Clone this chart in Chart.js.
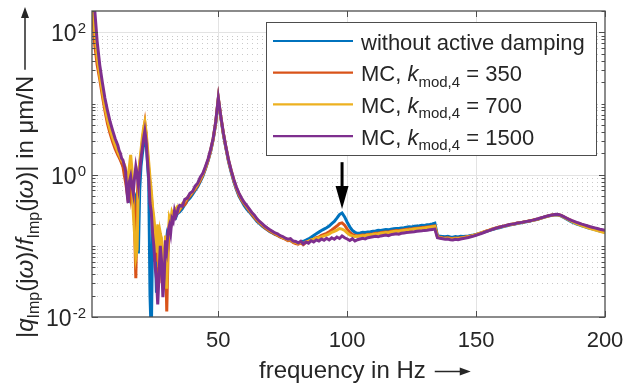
<!DOCTYPE html>
<html><head><meta charset="utf-8">
<script src="https://cdn.jsdelivr.net/npm/chart.js@4"></script>
<style>html,body{margin:0;padding:0;background:#fff}canvas{display:block}</style>
</head><body>
<canvas id="c" width="635" height="385"></canvas>
<script>
// ---------------- DATA ----------------
const freq = [
 1,2,3,4,5,6,7,8,9,10,11,
 11.5,12,12.5,13,13.5,14,14.5,15,15.5,16,16.5,17,17.5,18,18.5,19,19.5,20,20.5,21,
 21.5,22,22.5,23,23.5,24,24.5,25,25.5,26,26.5,27,27.5,28,28.5,29,29.5,30,30.5,31,
 31.5,32,32.5,33,33.5,34,34.5,35,
 36,37,38,39,40,41,42,43,44,45,46,47,48,49,50,51,52,53,54,55,56,57,58,59,60,
 61,62,63,64,65,66,67,68,69,70,71,72,73,74,75,76,77,78,79,80,
 81,82,83,84,85,86,87,88,89,90,91,92,93,94,95,96,97,98,99,100,
 101,102,103,104,105,106,107,108,109,110,111,112,113,114,115,116,117,118,119,120,
 121,122,123,124,125,126,127,128,129,130,131,132,133,134,135,136,137,138,139,140,
 141,142,143,144,145,146,147,148,149,150,151,152,153,154,155,156,157,158,159,160,
 161,162,163,164,165,166,167,168,169,170,171,172,173,174,175,176,177,178,179,180,
 181,182,183,184,185,186,187,188,189,190,191,192,193,194,195,196,197,198,199,200];

const withoutDamping = [
 380,150,55,28,16,10,6.5,4.6,3.5,2.7,2.1,
 1.9,1.7,1.5,1.35,1.15,0.95,0.75,0.6,0.5,0.66,
 0.55,0.38,0.45,0.5,0.2,0.078,0.6,1.3,1.9,2.6,
 3.6,3.0,1.5,0.8,0.02,0.005,0.15,0.06,0.1,0.022,
 0.07,0.045,0.15,0.1,0.05,0.03,0.09,0.13,0.1,0.17,
 0.19,0.21,0.24,0.26,0.25,0.28,0.29,0.3,
 0.33,0.38,0.43,0.47,0.53,
 0.6,0.68,0.8,0.95,1.2,1.55,2.1,3.1,5.3,11.5,
 6.2,3.6,2.3,1.5,1.08,0.8,0.62,0.5,0.43,0.37,
 0.33,0.3,0.27,0.245,0.22,0.205,0.19,0.178,0.168,0.158,
 0.152,0.145,0.14,0.134,0.13,0.125,0.121,0.118,0.116,0.113,
 0.11,0.113,0.116,0.12,0.125,0.132,0.14,0.148,0.156,0.164,
 0.172,0.18,0.19,0.205,0.22,0.245,0.275,0.29,0.255,0.215,
 0.185,0.165,0.155,0.15,0.152,0.155,0.154,0.157,0.158,0.16,
 0.162,0.165,0.164,0.167,0.17,0.168,0.172,0.174,0.176,0.175,
 0.178,0.18,0.183,0.185,0.184,0.188,0.19,0.192,0.195,0.194,
 0.198,0.2,0.203,0.208,0.14,0.136,0.135,0.134,0.136,0.133,
 0.132,0.135,0.133,0.136,0.135,0.137,0.138,0.14,0.142,0.145,
 0.148,0.152,0.156,0.16,0.164,0.168,0.172,0.176,0.18,0.184,
 0.188,0.192,0.196,0.2,0.203,0.206,0.21,0.213,0.217,0.22,
 0.224,0.228,0.232,0.237,0.243,0.249,0.256,0.262,0.267,0.271,
 0.273,0.27,0.262,0.25,0.238,0.227,0.218,0.21,0.203,0.197,
 0.191,0.186,0.181,0.177,0.173,0.169,0.166,0.162,0.159,0.156];

const mc350 = [
 300,70,35,22,13,8,5.2,3.8,2.9,2.3,1.9,
 1.75,1.6,1.45,1.3,1.0,0.8,0.6,1.0,0.7,0.5,
 0.8,0.6,0.2,0.035,0.4,1.1,1.4,1.9,2.8,4.0,
 5.3,3.5,2.0,1.2,0.7,0.5,0.3,0.2,0.1,0.06,
 0.12,0.03,0.07,0.09,0.05,0.04,0.1,0.012,0.08,0.2,
 0.18,0.24,0.26,0.27,0.3,0.31,0.3,0.32,
 0.36,0.38,0.45,0.5,0.56,
 0.62,0.71,0.83,0.99,1.22,1.58,2.15,3.15,5.4,11.8,
 6.4,3.7,2.35,1.55,1.12,0.83,0.64,0.52,0.44,0.39,
 0.35,0.31,0.28,0.25,0.228,0.21,0.195,0.18,0.17,0.16,
 0.153,0.146,0.14,0.133,0.128,0.124,0.118,0.12,0.112,0.108,
 0.106,0.11,0.104,0.112,0.115,0.12,0.124,0.13,0.133,0.14,
 0.145,0.15,0.158,0.167,0.178,0.19,0.205,0.21,0.195,0.172,
 0.155,0.145,0.14,0.138,0.14,0.142,0.141,0.144,0.146,0.147,
 0.15,0.151,0.153,0.155,0.157,0.156,0.16,0.162,0.164,0.163,
 0.166,0.168,0.17,0.172,0.173,0.175,0.177,0.179,0.181,0.182,
 0.184,0.186,0.188,0.19,0.135,0.132,0.13,0.129,0.13,0.128,
 0.127,0.129,0.128,0.13,0.131,0.133,0.135,0.138,0.14,0.144,
 0.148,0.152,0.157,0.162,0.166,0.171,0.176,0.18,0.184,0.188,
 0.191,0.195,0.199,0.202,0.205,0.209,0.212,0.215,0.219,0.222,
 0.226,0.23,0.234,0.239,0.245,0.251,0.258,0.264,0.269,0.273,
 0.276,0.274,0.267,0.256,0.245,0.235,0.226,0.218,0.211,0.205,
 0.199,0.194,0.189,0.184,0.18,0.176,0.172,0.168,0.165,0.162];

const mc700 = [
 350,110,45,25,15,9,6,4.3,3.3,2.6,2.1,
 1.9,1.75,1.6,1.5,1.4,1.25,0.9,0.7,1.3,1.9,
 1.2,0.3,0.15,0.07,0.09,0.8,1.5,2.2,3.3,4.5,
 5.5,4.0,2.4,1.5,0.9,0.6,0.35,0.25,0.15,0.08,
 0.2,0.05,0.15,0.12,0.06,0.03,0.14,0.025,0.12,0.25,
 0.22,0.3,0.27,0.28,0.33,0.35,0.31,0.33,
 0.39,0.42,0.48,0.52,0.58,
 0.65,0.74,0.87,1.02,1.25,1.6,2.2,3.2,5.5,11.8,
 6.4,3.75,2.4,1.58,1.14,0.85,0.66,0.54,0.46,0.4,
 0.36,0.32,0.29,0.262,0.235,0.215,0.2,0.186,0.175,0.165,
 0.157,0.15,0.143,0.137,0.131,0.127,0.121,0.123,0.114,0.112,
 0.108,0.113,0.107,0.114,0.116,0.121,0.124,0.128,0.13,0.134,
 0.138,0.142,0.147,0.155,0.16,0.166,0.175,0.172,0.165,0.152,
 0.142,0.138,0.135,0.136,0.138,0.139,0.14,0.142,0.143,0.145,
 0.147,0.148,0.15,0.152,0.154,0.153,0.157,0.159,0.16,0.16,
 0.163,0.165,0.167,0.168,0.17,0.172,0.174,0.176,0.177,0.179,
 0.181,0.183,0.185,0.187,0.133,0.13,0.128,0.127,0.128,0.125,
 0.125,0.127,0.126,0.128,0.13,0.132,0.134,0.137,0.14,0.144,
 0.148,0.152,0.157,0.161,0.165,0.17,0.175,0.179,0.183,0.187,
 0.19,0.194,0.198,0.201,0.204,0.208,0.211,0.214,0.218,0.221,
 0.225,0.229,0.233,0.238,0.244,0.25,0.257,0.263,0.268,0.272,
 0.275,0.272,0.265,0.254,0.242,0.231,0.222,0.214,0.206,0.199,
 0.193,0.187,0.182,0.177,0.172,0.168,0.164,0.16,0.156,0.152];

const mc1500 = [
 400,220,75,35,20,12,8,5.6,4.2,3.2,2.6,
 2.2,2.0,1.7,1.6,1.35,1.15,0.6,0.4,0.8,0.95,
 0.7,0.55,0.9,1.3,1.0,0.7,1.1,1.7,2.3,3.2,
 4.1,3.0,1.6,0.9,0.4,0.3,0.15,0.1,0.05,0.035,
 0.015,0.04,0.1,0.06,0.019,0.035,0.12,0.09,0.16,0.19,
 0.15,0.24,0.22,0.31,0.26,0.29,0.34,0.37,
 0.36,0.45,0.47,0.55,0.58,
 0.69,0.76,0.92,1.05,1.3,1.65,2.25,3.25,5.6,12,
 6.5,3.8,2.4,1.6,1.15,0.86,0.67,0.55,0.47,0.41,
 0.37,0.33,0.295,0.27,0.24,0.22,0.205,0.19,0.178,0.168,
 0.16,0.152,0.147,0.139,0.135,0.128,0.124,0.126,0.117,0.115,
 0.11,0.116,0.106,0.113,0.109,0.118,0.113,0.121,0.117,0.125,
 0.12,0.128,0.121,0.13,0.124,0.133,0.127,0.138,0.13,0.125,
 0.119,0.126,0.117,0.122,0.125,0.128,0.125,0.13,0.132,0.134,
 0.136,0.134,0.138,0.14,0.142,0.139,0.144,0.146,0.148,0.146,
 0.15,0.152,0.154,0.155,0.157,0.158,0.16,0.162,0.163,0.165,
 0.166,0.168,0.17,0.172,0.13,0.128,0.126,0.124,0.125,0.122,
 0.121,0.124,0.122,0.125,0.127,0.129,0.131,0.134,0.137,0.141,
 0.145,0.149,0.154,0.159,0.164,0.169,0.174,0.179,0.183,0.187,
 0.191,0.195,0.199,0.202,0.205,0.209,0.212,0.215,0.219,0.222,
 0.226,0.23,0.235,0.24,0.246,0.252,0.259,0.265,0.27,0.274,
 0.277,0.275,0.268,0.257,0.246,0.236,0.228,0.221,0.214,0.208,
 0.202,0.197,0.192,0.187,0.183,0.179,0.175,0.171,0.168,0.165];

const xTicks = [50, 100, 150, 200];
const yTickExponents = [-2, 0, 2];
const xRange = [1, 200];
const yRange = [0.01, 200];
const arrowAt = { x: 98, top: 1.5, tip: 0.33 };

const seriesNames = ['without active damping', 'MC, k_mod,4 = 350', 'MC, k_mod,4 = 700', 'MC, k_mod,4 = 1500'];
const seriesValues = [withoutDamping, mc350, mc700, mc1500];
const seriesColors = ['#0072BD', '#D95319', '#EDB120', '#7E2F8E'];

// ---------------- DRAWING ----------------
const FONT = '"Liberation Sans", Arial, sans-serif';
const TXT = '#262626';

function richSegs(label) {
  if (label.indexOf('k_mod,4') >= 0) {
    const parts = label.split('k_mod,4');
    return [{t: parts[0]}, {t: 'k', i: 1}, {t: 'mod,4', s: 1}, {t: parts[1]}];
  }
  return [{t: label}];
}
function segFont(seg, size) {
  const sz = seg.s ? Math.round(size * 0.68) : size;
  return (seg.i ? 'italic ' : '') + sz + 'px ' + FONT;
}
function drawRich(ctx, segs, x, y, size) {
  let cx = x;
  for (const seg of segs) {
    ctx.font = segFont(seg, size);
    ctx.fillText(seg.t, cx, seg.s ? y + size * 0.25 : y);
    cx += ctx.measureText(seg.t).width;
  }
  return cx - x;
}
function arrowHead(ctx, x, y, dx, dy, len, half) {
  const nx = -dy, ny = dx;
  ctx.beginPath();
  ctx.moveTo(x, y);
  ctx.lineTo(x - dx * len + nx * half, y - dy * len + ny * half);
  ctx.lineTo(x - dx * len - nx * half, y - dy * len - ny * half);
  ctx.closePath();
  ctx.fill();
}

const gridPlugin = {
  id: 'matlabGrid',
  beforeDatasetsDraw(chart) {
    const {ctx, chartArea: a, scales: {x, y}} = chart;
    ctx.save();
    ctx.strokeStyle = '#c9c9c9';
    ctx.lineWidth = 1;
    ctx.setLineDash([1, 4]);
    for (let d = -2; d <= 2; d++) {
      for (let m = 1; m <= 9; m++) {
        const v = m * Math.pow(10, d);
        if (v <= yRange[0] || v >= yRange[1]) continue;
        if (m === 1 && yTickExponents.includes(d)) continue;
        const py = Math.round(y.getPixelForValue(v)) + 0.5;
        ctx.beginPath(); ctx.moveTo(a.left, py); ctx.lineTo(a.right, py); ctx.stroke();
      }
    }
    ctx.setLineDash([]);
    ctx.strokeStyle = '#e3e3e3';
    for (const e of yTickExponents) {
      const v = Math.pow(10, e);
      if (v <= yRange[0] || v >= yRange[1]) continue;
      const py = Math.round(y.getPixelForValue(v)) + 0.5;
      ctx.beginPath(); ctx.moveTo(a.left, py); ctx.lineTo(a.right, py); ctx.stroke();
    }
    for (const t of xTicks) {
      if (t >= xRange[1]) continue;
      const px = Math.round(x.getPixelForValue(t)) + 0.5;
      ctx.beginPath(); ctx.moveTo(px, a.top); ctx.lineTo(px, a.bottom); ctx.stroke();
    }
    ctx.restore();
  },
  afterDatasetsDraw(chart) {
    const {ctx, chartArea: a, scales: {x, y}} = chart;
    ctx.save();
    ctx.strokeStyle = '#4d4d4d';
    ctx.lineWidth = 1.3;
    ctx.strokeRect(a.left, a.top, a.right - a.left, a.bottom - a.top);
    ctx.lineWidth = 1;
    for (let d = -2; d <= 2; d++) {
      for (let m = 1; m <= 9; m++) {
        const v = m * Math.pow(10, d);
        if (v < yRange[0] || v > yRange[1]) continue;
        const major = (m === 1 && yTickExponents.includes(d));
        const len = major ? 6 : 3.5;
        const py = Math.round(y.getPixelForValue(v)) + 0.5;
        ctx.beginPath();
        ctx.moveTo(a.left, py); ctx.lineTo(a.left + len, py);
        ctx.moveTo(a.right, py); ctx.lineTo(a.right - len, py);
        ctx.stroke();
      }
    }
    for (const t of xTicks) {
      const px = Math.round(x.getPixelForValue(t)) + 0.5;
      ctx.beginPath();
      ctx.moveTo(px, a.bottom); ctx.lineTo(px, a.bottom - 6);
      ctx.moveTo(px, a.top); ctx.lineTo(px, a.top + 6);
      ctx.stroke();
    }
    // y tick labels
    ctx.fillStyle = TXT;
    ctx.textBaseline = 'alphabetic';
    for (const e of yTickExponents) {
      const py = y.getPixelForValue(Math.pow(10, e));
      const expStr = e < 0 ? '-' + Math.abs(e) : String(e);
      ctx.font = '15px ' + FONT;
      const we = ctx.measureText(expStr).width;
      ctx.textAlign = 'left';
      ctx.fillText(expStr, 86 - we, py + 1);
      ctx.font = '23px ' + FONT;
      ctx.textAlign = 'right';
      ctx.fillText('10', 86 - we - 1, py + 9);
    }
    // x tick labels
    ctx.font = '22px ' + FONT;
    ctx.textAlign = 'center';
    for (const t of xTicks) {
      ctx.fillText(String(t), x.getPixelForValue(t), 347);
    }
    // x title
    ctx.textAlign = 'left';
    ctx.font = '24px ' + FONT;
    const xt = 'frequency in Hz';
    const xw = ctx.measureText(xt).width;
    const xs = 259;
    ctx.fillText(xt, xs, 378);
    ctx.strokeStyle = TXT; ctx.lineWidth = 1.5;
    const ax0 = xs + xw + 9, ax1 = ax0 + 36;
    ctx.beginPath(); ctx.moveTo(ax0, 371.5); ctx.lineTo(ax1 - 8, 371.5); ctx.stroke();
    arrowHead(ctx, ax1, 371.5, 1, 0, 11, 4);
    // y title (rotated)
    ctx.save();
    ctx.translate(33, 338);
    ctx.rotate(-Math.PI / 2);
    const ySegs = [{t: '|'}, {t: 'q', i: 1}, {t: 'Imp', s: 1}, {t: '(j'}, {t: 'ω', i: 1}, {t: ')/'},
                   {t: 'f', i: 1}, {t: 'Imp', s: 1}, {t: '(j'}, {t: 'ω', i: 1}, {t: ')| in μm/N'}];
    const yw = drawRich(ctx, ySegs, 0, 0, 24);
    ctx.beginPath(); ctx.moveTo(yw + 6, -8); ctx.lineTo(322, -8); ctx.stroke();
    arrowHead(ctx, 331, -8, 1, 0, 11, 4);
    ctx.restore();
    // annotation arrow
    const axp = x.getPixelForValue(arrowAt.x);
    const ayTop = y.getPixelForValue(arrowAt.top);
    const ayTip = y.getPixelForValue(arrowAt.tip);
    ctx.fillStyle = '#000'; ctx.strokeStyle = '#000'; ctx.lineWidth = 3;
    ctx.beginPath(); ctx.moveTo(axp, ayTop); ctx.lineTo(axp, ayTip - 18); ctx.stroke();
    arrowHead(ctx, axp, ayTip, 0, 1, 23, 6.5);
    // legend
    const L = {x: 266, y: 22, w: 330, h: 133};
    ctx.fillStyle = '#fff';
    ctx.fillRect(L.x, L.y, L.w, L.h);
    ctx.strokeStyle = '#4d4d4d'; ctx.lineWidth = 1;
    ctx.strokeRect(L.x + 0.5, L.y + 0.5, L.w, L.h);
    chart.data.datasets.forEach((ds, i) => {
      const ly = 41 + i * 31.7;
      ctx.strokeStyle = ds.borderColor; ctx.lineWidth = 2.2;
      ctx.beginPath(); ctx.moveTo(273, ly); ctx.lineTo(353, ly); ctx.stroke();
      ctx.fillStyle = TXT;
      ctx.textAlign = 'left';
      drawRich(ctx, richSegs(ds.label), 361, ly + 8.5, 22);
    });
    ctx.restore();
  }
};

const datasets = seriesNames.map((name, i) => ({
  label: name,
  data: freq.map((f, j) => ({x: f, y: seriesValues[i][j]})),
  borderColor: seriesColors[i],
  backgroundColor: seriesColors[i],
  borderWidth: 3,
  pointRadius: 0,
  tension: 0,
  fill: false,
  order: 4 - i
}));

new Chart(document.getElementById('c'), {
  type: 'line',
  data: {datasets},
  options: {
    responsive: false,
    animation: false,
    layout: {padding: {left: 92, right: 30, top: 11, bottom: 68}},
    scales: {
      x: {type: 'linear', min: xRange[0], max: xRange[1], display: false},
      y: {type: 'logarithmic', min: yRange[0], max: yRange[1], display: false}
    },
    plugins: {legend: {display: false}, tooltip: {enabled: false}}
  },
  plugins: [gridPlugin]
});
</script>
</body></html>
